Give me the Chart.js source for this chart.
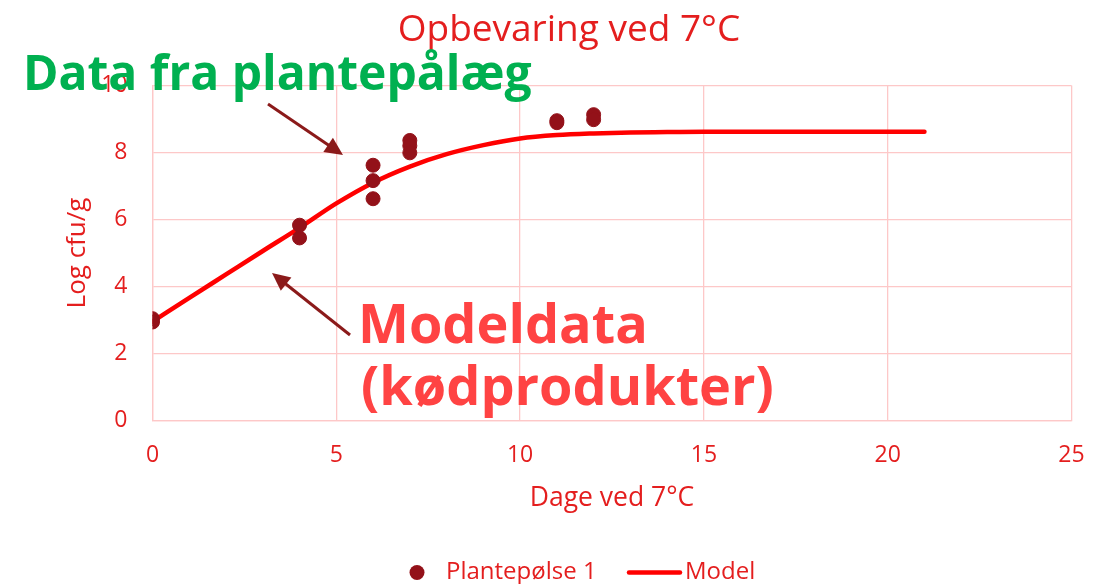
<!DOCTYPE html>
<html>
<head>
<meta charset="utf-8">
<script src="https://cdn.jsdelivr.net/npm/chart.js@4.4.1/dist/chart.umd.min.js"></script>
<style>
  html, body { margin: 0; padding: 0; background: #ffffff; }
  #wrap { width: 1097px; height: 584px; position: relative; }
</style>
</head>
<body>
<div id="wrap"><canvas id="c" width="1097" height="584"></canvas></div>
<script>
// ---- data ----
const plantDays   = [0, 0, 4, 4, 6, 6, 6, 7, 7, 7, 11, 11, 12, 12];
const plantLogCfu = [3.04, 2.94, 5.83, 5.45, 7.62, 7.16, 6.62, 8.36, 8.2, 7.99, 8.95, 8.89, 9.13, 8.98];

const modelDays   = [0, 1, 2, 3, 4, 5, 6, 7, 8, 9, 10, 11, 12, 13, 14, 15, 16, 17, 18, 19, 20, 21];
const modelLogCfu = [2.95, 3.66, 4.36, 5.06, 5.75, 6.48, 7.1, 7.58, 7.95, 8.22, 8.42, 8.52, 8.57, 8.6, 8.61, 8.62, 8.62, 8.62, 8.62, 8.62, 8.62, 8.62];

const xTickValues = [0, 5, 10, 15, 20, 25];
const yTickValues = [0, 2, 4, 6, 8, 10];

const chartTitle  = 'Opbevaring ved 7°C';
const xAxisTitle  = 'Dage ved 7°C';
const yAxisTitle  = 'Log cfu/g';
const seriesNames = ['Plantepølse 1', 'Model'];
const noteGreen   = 'Data fra plantepålæg';
const noteRed     = ['Modeldata', '(kødprodukter)'];

// ---- styles ----
const FONT = "'Open Sans', sans-serif";
const TXT_RED = '#E41E1E';
const GRID = '#FDC8C8';
const PT_COL = '#931119';
const LINE_COL = '#FF0000';
const ARROW_COL = '#8B1A1A';

function arrow(ctx, x1, y1, x2, y2) {
  const ang = Math.atan2(y2 - y1, x2 - x1);
  const hl = 18, hw = 8.5;
  const bx = x2 - hl * Math.cos(ang), by = y2 - hl * Math.sin(ang);
  ctx.save();
  ctx.strokeStyle = ARROW_COL; ctx.fillStyle = ARROW_COL;
  ctx.lineWidth = 3;
  ctx.beginPath(); ctx.moveTo(x1, y1); ctx.lineTo(bx + 2 * Math.cos(ang), by + 2 * Math.sin(ang)); ctx.stroke();
  ctx.beginPath();
  ctx.moveTo(x2, y2);
  ctx.lineTo(bx + hw * Math.sin(ang), by - hw * Math.cos(ang));
  ctx.lineTo(bx - hw * Math.sin(ang), by + hw * Math.cos(ang));
  ctx.closePath(); ctx.fill();
  ctx.restore();
}

const decor = {
  id: 'decor',
  afterDraw(chart) {
    const ctx = chart.ctx;
    ctx.save();
    // title
    ctx.fillStyle = TXT_RED;
    ctx.font = '37px ' + FONT;
    ctx.textAlign = 'center';
    ctx.textBaseline = 'alphabetic';
    ctx.fillText(chartTitle, 569, 41);

    // legend
    ctx.fillStyle = PT_COL;
    ctx.beginPath(); ctx.arc(417, 572.5, 7.5, 0, Math.PI * 2); ctx.fill();
    ctx.fillStyle = TXT_RED;
    ctx.font = '24px ' + FONT;
    ctx.textAlign = 'left';
    ctx.textBaseline = 'middle';
    ctx.fillText(seriesNames[0], 446, 572);
    ctx.strokeStyle = LINE_COL; ctx.lineWidth = 4.5; ctx.lineCap = 'round';
    ctx.beginPath(); ctx.moveTo(629, 572.5); ctx.lineTo(680, 572.5); ctx.stroke();
    ctx.fillText(seriesNames[1], 685, 572);

    // annotations
    ctx.textBaseline = 'alphabetic';
    ctx.fillStyle = '#00B050';
    ctx.font = 'bold 48px ' + FONT;
    ctx.fillText(noteGreen, 23, 90);
    ctx.fillStyle = '#FF4343';
    ctx.font = 'bold 54px ' + FONT;
    ctx.fillText(noteRed[0], 358, 343);
    ctx.fillText(noteRed[1], 361, 405);
    ctx.restore();

    arrow(ctx, 268, 104, 343, 155);
    arrow(ctx, 350, 335, 272, 273);
  }
};

const ctx = document.getElementById('c').getContext('2d');
new Chart(ctx, {
  type: 'scatter',
  data: {
    datasets: [
      {
        type: 'scatter',
        label: seriesNames[0],
        data: plantDays.map((d, i) => ({ x: d, y: plantLogCfu[i] })),
        backgroundColor: PT_COL,
        borderColor: PT_COL,
        borderWidth: 1,
        pointRadius: 7,
        pointHoverRadius: 7,
        order: 0
      },
      {
        type: 'line',
        label: seriesNames[1],
        data: modelDays.map((d, i) => ({ x: d, y: modelLogCfu[i] })),
        borderColor: LINE_COL,
        backgroundColor: LINE_COL,
        borderWidth: 4.5,
        borderCapStyle: 'round',
        borderJoinStyle: 'round',
        pointRadius: 0,
        cubicInterpolationMode: 'monotone',
        fill: false,
        order: 1
      }
    ]
  },
  options: {
    responsive: false,
    animation: false,
    events: [],
    layout: { padding: { top: 85.5, right: 25.5, left: 0, bottom: 0 } },
    plugins: {
      legend: { display: false },
      title: { display: false },
      tooltip: { enabled: false }
    },
    scales: {
      x: {
        type: 'linear',
        min: 0, max: 25,
        afterBuildTicks: s => { s.ticks = xTickValues.map(v => ({ value: v })); },
        afterFit: s => { s.height = 163.5; s.paddingLeft = 0; s.paddingRight = 0; },
        ticks: { color: TXT_RED, font: { family: FONT, size: 23 }, padding: 21, maxRotation: 0 },
        grid: { color: GRID, lineWidth: 1.3, drawTicks: false },
        border: { color: GRID, width: 1.3 },
        title: { display: true, text: xAxisTitle, color: TXT_RED, font: { family: FONT, size: 26.5 }, padding: { top: 0, bottom: 70 } }
      },
      y: {
        type: 'linear',
        min: 0, max: 10,
        afterBuildTicks: s => { s.ticks = yTickValues.map(v => ({ value: v })); },
        afterFit: s => { s.width = 152.5; s.paddingTop = 0; s.paddingBottom = 0; },
        ticks: { color: TXT_RED, font: { family: FONT, size: 23 }, padding: 25 },
        grid: { color: GRID, lineWidth: 1.3, drawTicks: false },
        border: { color: GRID, width: 1.3 },
        title: { display: true, text: yAxisTitle, color: TXT_RED, font: { family: FONT, size: 26 }, padding: { top: 62, bottom: 0 } }
      }
    }
  },
  plugins: [decor]
});
</script>
</body>
</html>
